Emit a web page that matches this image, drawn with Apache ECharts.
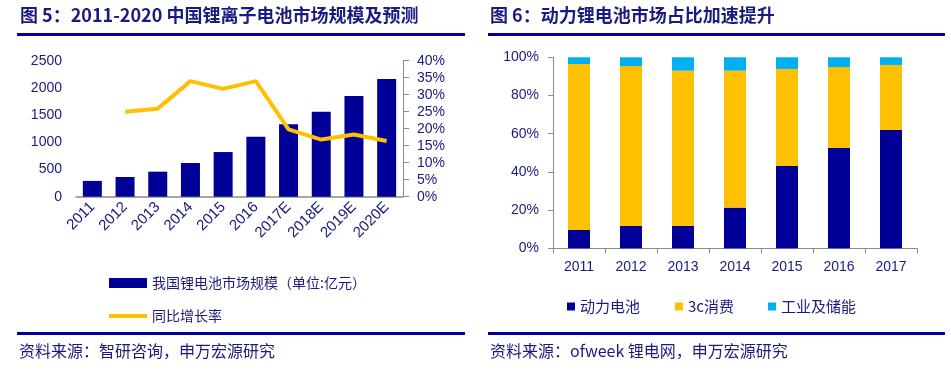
<!DOCTYPE html>
<html>
<head>
<meta charset="utf-8">
<script src="https://cdn.jsdelivr.net/npm/echarts@6/dist/echarts.min.js"></script>
<style>
html,body{margin:0;padding:0;background:#fff;}
#c{width:951px;height:370px;}
</style>
</head>
<body>
<div id="c"></div>
<script>
// ---- Data: Figure 5 ----
const years5 = ['2011','2012','2013','2014','2015','2016','2017E','2018E','2019E','2020E'];
const marketSize = [290, 362, 460, 619, 821, 1103, 1331, 1563, 1851, 2163];
const growthRate = [null, 25.0, 25.9, 34.0, 31.7, 34.0, 19.8, 16.8, 18.3, 16.4];
const leftTicks = { min: 0, max: 2500, interval: 500 };
const rightTicks = { min: 0, max: 40, interval: 5 };

// ---- Data: Figure 6 ----
const years6 = ['2011','2012','2013','2014','2015','2016','2017'];
const powerBattery = [9.6, 11.7, 11.7, 21.3, 43.1, 52.5, 61.9];
const consumer3c = [86.9, 83.7, 81.3, 71.7, 50.8, 42.4, 34.1];
const industrial = [3.5, 4.6, 7.0, 7.0, 6.1, 5.1, 4.0];
const shareTicks = { min: 0, max: 100, interval: 20 };

const NAVY = '#1a1a80';
const BAR = '#000099';
const YEL = '#FFC000';
const LBLUE = '#00B0F0';
const GRAY = '#8c8c8c';
const CJK = '"Noto Sans CJK SC", "Liberation Sans", sans-serif';
const NUM = '"Liberation Sans", Arial, sans-serif';

const chart = echarts.init(document.getElementById('c'), null, {renderer: 'canvas'});

const option = {
  animation: false,
  backgroundColor: '#fff',
  textStyle: { fontFamily: NUM, color: NAVY },
  graphic: [
    { type: 'text', left: 20, top: 6, style: { text: '图 5：2011-2020 中国锂离子电池市场规模及预测', fill: NAVY, font: 'bold 18px ' + CJK } },
    { type: 'rect', shape: { x: 17, y: 33, width: 448, height: 3 }, style: { fill: BAR } },
    { type: 'rect', shape: { x: 17, y: 332, width: 448, height: 3 }, style: { fill: BAR } },
    { type: 'text', left: 19, top: 343, style: { text: '资料来源：智研咨询，申万宏源研究', fill: NAVY, font: '16px ' + CJK } },

    { type: 'text', left: 490, top: 6, style: { text: '图 6：动力锂电池市场占比加速提升', fill: NAVY, font: 'bold 18px ' + CJK } },
    { type: 'rect', shape: { x: 488, y: 33, width: 457, height: 3 }, style: { fill: BAR } },
    { type: 'rect', shape: { x: 488, y: 332, width: 457, height: 3 }, style: { fill: BAR } },
    { type: 'text', left: 490, top: 343, style: { text: '资料来源：ofweek 锂电网，申万宏源研究', fill: NAVY, font: '16px ' + CJK } }
  ],
  legend: [
    {
      orient: 'vertical', left: 104, top: 271, itemGap: 19, itemWidth: 38, itemHeight: 10,
      textStyle: { fontFamily: CJK, fontSize: 14, color: NAVY },
      data: [
        { name: '我国锂电池市场规模（单位:亿元）', icon: 'rect' },
        { name: '同比增长率', icon: 'path://M0,0h38v4h-38z' }
      ]
    },
    {
      left: 562, top: 294, itemWidth: 8, itemHeight: 8, itemGap: 10, icon: 'rect',
      textStyle: { fontFamily: CJK, fontSize: 15, color: NAVY },
      data: ['动力电池']
    },
    {
      left: 670, top: 294, itemWidth: 8, itemHeight: 8, icon: 'rect',
      textStyle: { fontFamily: CJK, fontSize: 15, color: NAVY },
      data: ['3c消费']
    },
    {
      left: 763, top: 294, itemWidth: 8, itemHeight: 8, icon: 'rect',
      textStyle: { fontFamily: CJK, fontSize: 15, color: NAVY },
      data: ['工业及储能']
    }
  ],
  grid: [
    { left: 76, right: 548, top: 60.7, bottom: 173.3, containLabel: false },
    { left: 553, right: 34, top: 57.3, bottom: 121.7, containLabel: false }
  ],
  xAxis: [
    {
      type: 'category', gridIndex: 0, data: years5,
      axisLine: { lineStyle: { color: GRAY, width: 1.5 } },
      axisTick: { show: false },
      axisLabel: { rotate: 45, margin: 8, fontSize: 15, color: NAVY, fontFamily: NUM, interval: 0 }
    },
    {
      type: 'category', gridIndex: 1, data: years6,
      axisLine: { lineStyle: { color: GRAY, width: 1 } },
      axisTick: { show: true, length: 5, lineStyle: { color: GRAY } },
      axisLabel: { margin: 12, fontSize: 14, color: NAVY, fontFamily: NUM }
    }
  ],
  yAxis: [
    {
      type: 'value', gridIndex: 0, min: leftTicks.min, max: leftTicks.max, interval: leftTicks.interval,
      axisLine: { show: false }, axisTick: { show: false }, splitLine: { show: false },
      axisLabel: { margin: 14, fontSize: 14, color: NAVY, fontFamily: NUM, formatter: v => String(v) }
    },
    {
      type: 'value', gridIndex: 0, position: 'right', min: rightTicks.min, max: rightTicks.max, interval: rightTicks.interval,
      axisLine: { show: true, lineStyle: { color: GRAY, width: 1 } },
      axisTick: { show: true, length: 6, lineStyle: { color: GRAY } },
      splitLine: { show: false },
      axisLabel: { margin: 14, fontSize: 14, color: NAVY, fontFamily: NUM, formatter: '{value}%' }
    },
    {
      type: 'value', gridIndex: 1, min: shareTicks.min, max: shareTicks.max, interval: shareTicks.interval,
      axisLine: { show: true, lineStyle: { color: GRAY, width: 1 } },
      axisTick: { show: true, length: 5, lineStyle: { color: GRAY } },
      splitLine: { show: false },
      axisLabel: { margin: 14, fontSize: 14, color: NAVY, fontFamily: NUM, formatter: '{value}%' }
    }
  ],
  series: [
    {
      name: '我国锂电池市场规模（单位:亿元）', type: 'bar', xAxisIndex: 0, yAxisIndex: 0,
      data: marketSize, barWidth: 19,
      itemStyle: { color: BAR }
    },
    {
      name: '同比增长率', type: 'line', xAxisIndex: 0, yAxisIndex: 1,
      data: growthRate, symbol: 'none', connectNulls: false,
      lineStyle: { color: YEL, width: 4 }, itemStyle: { color: YEL }
    },
    {
      name: '动力电池', type: 'bar', stack: 's', xAxisIndex: 1, yAxisIndex: 2,
      data: powerBattery, barWidth: 22, itemStyle: { color: BAR }
    },
    {
      name: '3c消费', type: 'bar', stack: 's', xAxisIndex: 1, yAxisIndex: 2,
      data: consumer3c, barWidth: 22, itemStyle: { color: YEL }
    },
    {
      name: '工业及储能', type: 'bar', stack: 's', xAxisIndex: 1, yAxisIndex: 2,
      data: industrial, barWidth: 22, itemStyle: { color: LBLUE }
    }
  ]
};
chart.setOption(option);
</script>
</body>
</html>
